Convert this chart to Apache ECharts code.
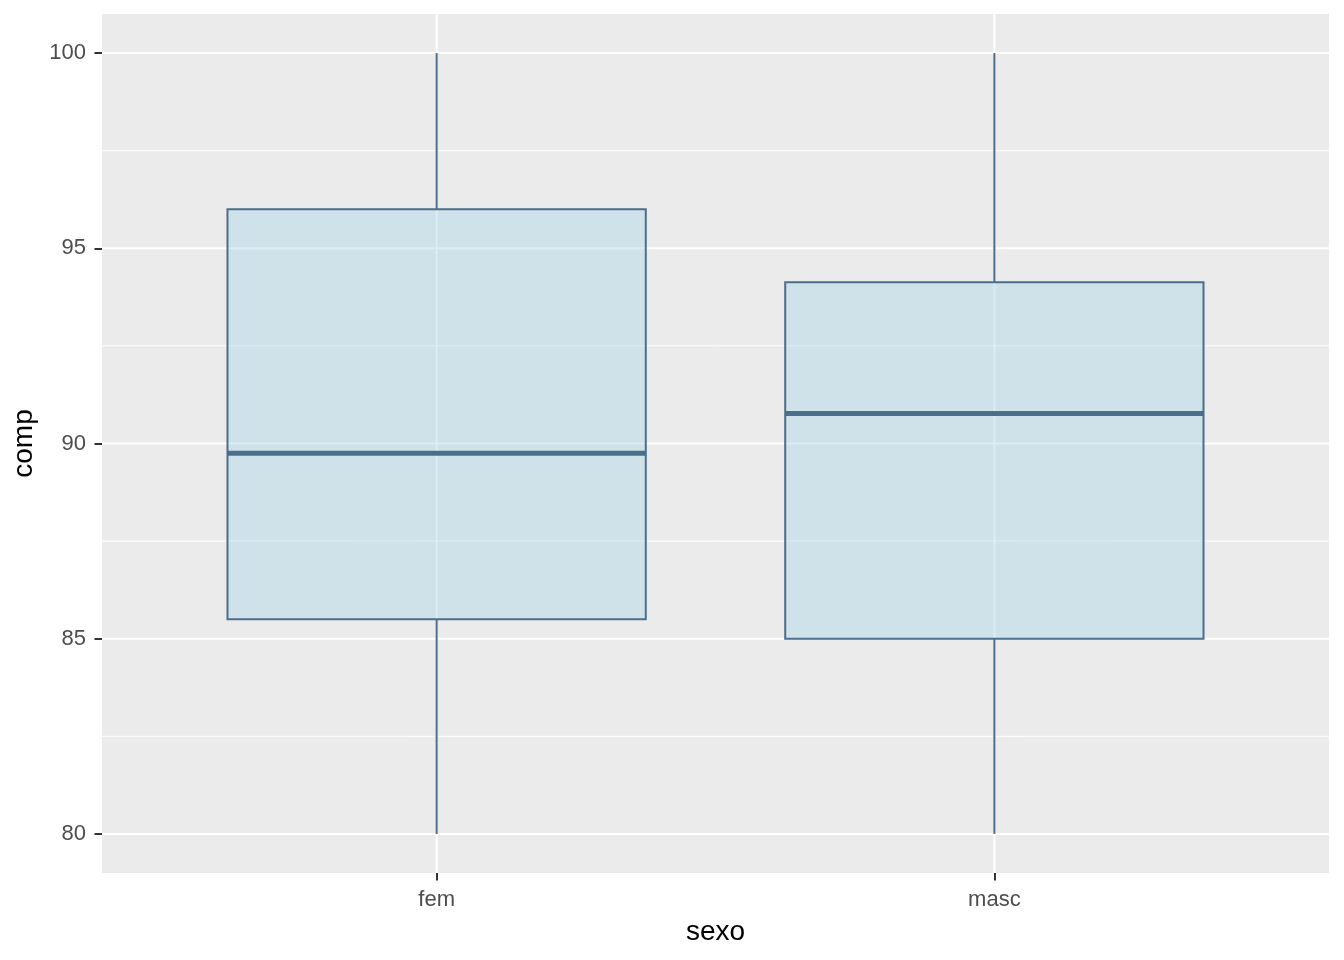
<!DOCTYPE html>
<html lang="en">
  <head>
    <meta charset="UTF-8" />
    <title>comp por sexo</title>
    <script src="https://cdn.jsdelivr.net/npm/echarts@6/dist/echarts.min.js"></script>
    <style>
      html, body { margin: 0; padding: 0; background: #fff; }
      #main { width: 1344px; height: 960px; }
    </style>
  </head>
  <body>
    <div id="main"></div>
    <script>
      // dados
      var categories = ["fem", "masc"];
      var whiskerLow = [80, 80];
      var q1 = [85.5, 85.0];
      var median = [89.75, 90.77];
      var q3 = [96.0, 94.13];
      var whiskerHigh = [100, 100];
      var yMajorTicks = [80, 85, 90, 95, 100];
      var yMinorTicks = [82.5, 87.5, 92.5, 97.5];
      var xTicks = [1, 2];

      var boxData = [];
      for (var i = 0; i < categories.length; i++) {
        boxData.push([xTicks[i], whiskerLow[i], q1[i], median[i], q3[i], whiskerHigh[i]]);
      }
      // linhas de grade: [tipo, valor]  0 = horizontal maior, 1 = horizontal menor, 2 = vertical
      var gridData = [];
      yMajorTicks.forEach(function (v) { gridData.push([0, v]); });
      yMinorTicks.forEach(function (v) { gridData.push([1, v]); });
      xTicks.forEach(function (v) { gridData.push([2, v]); });

      var myChart = echarts.init(document.getElementById("main"));
      var textFont = "Liberation Sans, Arial, sans-serif";

      var option = {
        backgroundColor: "#fff",
        animation: false,
        grid: {
          left: 102,
          top: 14,
          right: 15,
          bottom: 87,
          show: true,
          backgroundColor: "#EBEBEB",
          borderWidth: 0,
        },
        xAxis: {
          type: "value",
          min: 0.4,
          max: 2.6,
          name: "sexo",
          nameLocation: "middle",
          nameGap: 45,
          nameTextStyle: { color: "#000", fontSize: 28, fontFamily: textFont },
          axisLine: { show: false },
          splitLine: { show: false },
          axisTick: {
            show: true,
            customValues: xTicks,
            length: 7.5,
            lineStyle: { color: "#333333", width: 2 },
          },
          axisLabel: {
            customValues: xTicks,
            margin: 16,
            color: "#4D4D4D",
            fontSize: 22,
            fontFamily: textFont,
            formatter: function (v) {
              var idx = xTicks.indexOf(Math.round(v));
              return idx >= 0 ? categories[idx] : "";
            },
          },
        },
        yAxis: {
          type: "value",
          min: 79,
          max: 101,
          name: "comp",
          nameLocation: "middle",
          nameGap: 52,
          nameTextStyle: { color: "#000", fontSize: 28, fontFamily: textFont },
          axisLine: { show: false },
          splitLine: { show: false },
          axisTick: {
            show: true,
            customValues: yMajorTicks,
            length: 7.5,
            lineStyle: { color: "#333333", width: 2 },
          },
          axisLabel: {
            customValues: yMajorTicks,
            margin: 16,
            color: "#4D4D4D",
            fontSize: 22,
            fontFamily: textFont,
          },
        },
        series: [
          {
            type: "custom",
            name: "grade",
            z: 1,
            silent: true,
            data: gridData,
            encode: { x: -1, y: -1 },
            renderItem: function (params, api) {
              var kind = api.value(0);
              var v = api.value(1);
              var cs = params.coordSys;
              if (kind === 2) {
                var px = api.coord([v, 90])[0];
                return {
                  type: "line",
                  shape: { x1: px, y1: cs.y, x2: px, y2: cs.y + cs.height },
                  style: { stroke: "#FFFFFF", lineWidth: 2 },
                };
              }
              var py = api.coord([1, v])[1];
              return {
                type: "line",
                shape: { x1: cs.x, y1: py, x2: cs.x + cs.width, y2: py },
                style: { stroke: "#FFFFFF", lineWidth: kind === 0 ? 2 : 1 },
              };
            },
          },
          {
            type: "custom",
            name: "comp",
            z: 2,
            data: boxData,
            encode: { x: 0, y: [1, 2, 3, 4, 5] },
            renderItem: function (params, api) {
              var x = api.value(0);
              var half = 0.375;
              var left = api.coord([x - half, api.value(4)]);
              var right = api.coord([x + half, api.value(2)]);
              var mid = api.coord([x, api.value(3)]);
              var low = api.coord([x, api.value(1)]);
              var high = api.coord([x, api.value(5)]);
              var stroke = "#4A6E8C";
              return {
                type: "group",
                children: [
                  {
                    type: "line",
                    shape: { x1: high[0], y1: high[1], x2: high[0], y2: left[1] },
                    style: { stroke: stroke, lineWidth: 2 },
                  },
                  {
                    type: "line",
                    shape: { x1: low[0], y1: right[1], x2: low[0], y2: low[1] },
                    style: { stroke: stroke, lineWidth: 2 },
                  },
                  {
                    type: "rect",
                    shape: {
                      x: left[0],
                      y: left[1],
                      width: right[0] - left[0],
                      height: right[1] - left[1],
                    },
                    style: { fill: "rgba(173,216,230,0.45)", stroke: stroke, lineWidth: 2 },
                  },
                  {
                    type: "line",
                    shape: { x1: left[0], y1: mid[1], x2: right[0], y2: mid[1] },
                    style: { stroke: stroke, lineWidth: 5 },
                  },
                ],
              };
            },
          },
        ],
      };
      option && myChart.setOption(option);
    </script>
  </body>
</html>
